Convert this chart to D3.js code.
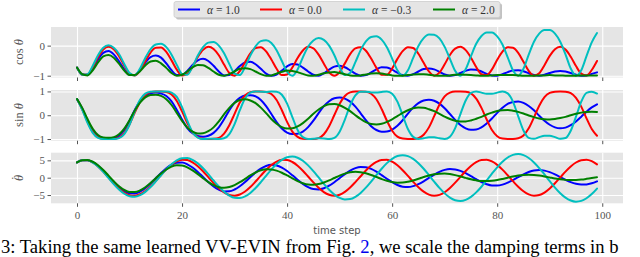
<!DOCTYPE html>
<html><head><meta charset="utf-8">
<script src="https://cdn.jsdelivr.net/npm/d3@7"></script>
<style>html,body{margin:0;padding:0;background:#fff;overflow:hidden}</style>
</head><body><svg id="c" width="640" height="257"></svg>
<script>
// ---------- data ----------
const steps = d3.range(0, 100);            // time step 0..99
const xTicks = [0, 20, 40, 60, 80, 100];
const seriesNames = ["α = 1.0", "α = 0.0", "α = −0.3", "α = 2.0"];
const seriesColors = ["#0000ff", "#ff0000", "#00bfbf", "#008000"];

const cosBlue = [-0.73,-0.96,-0.97,-0.76,-0.46,-0.24,-0.18,-0.29,-0.52,-0.79,-0.97,-0.98,-0.81,-0.57,-0.38,-0.33,-0.40,-0.59,-0.82,-0.98,-0.98,-0.84,-0.64,-0.49,-0.44,-0.51,-0.67,-0.86,-0.99,-0.98,-0.85,-0.68,-0.56,-0.54,-0.62,-0.77,-0.93,-1.00,-0.96,-0.83,-0.69,-0.61,-0.63,-0.73,-0.86,-0.97,-1.00,-0.92,-0.80,-0.70,-0.67,-0.72,-0.82,-0.93,-1.00,-0.98,-0.89,-0.79,-0.72,-0.73,-0.80,-0.90,-0.98,-1.00,-0.95,-0.86,-0.78,-0.76,-0.79,-0.87,-0.96,-1.00,-0.98,-0.91,-0.84,-0.79,-0.80,-0.86,-0.94,-0.99,-1.00,-0.95,-0.88,-0.83,-0.82,-0.85,-0.92,-0.98,-1.00,-0.97,-0.91,-0.86,-0.84,-0.86,-0.91,-0.97,-1.00,-0.99,-0.94,-0.89];
const cosRed = [-0.73,-0.97,-0.96,-0.72,-0.39,-0.13,-0.04,-0.12,-0.35,-0.66,-0.93,-0.99,-0.83,-0.52,-0.23,-0.07,-0.06,-0.21,-0.49,-0.80,-0.99,-0.94,-0.70,-0.38,-0.14,-0.04,-0.11,-0.32,-0.63,-0.91,-1.00,-0.85,-0.55,-0.26,-0.08,-0.05,-0.19,-0.46,-0.77,-0.98,-0.96,-0.73,-0.41,-0.16,-0.04,-0.09,-0.30,-0.60,-0.89,-1.00,-0.88,-0.59,-0.28,-0.09,-0.05,-0.17,-0.43,-0.74,-0.97,-0.97,-0.76,-0.44,-0.18,-0.05,-0.08,-0.27,-0.57,-0.86,-1.00,-0.90,-0.62,-0.31,-0.10,-0.04,-0.15,-0.40,-0.71,-0.95,-0.98,-0.79,-0.47,-0.20,-0.05,-0.07,-0.24,-0.54,-0.84,-1.00,-0.92,-0.65,-0.34,-0.12,-0.04,-0.13,-0.37,-0.68,-0.93,-0.99,-0.81,-0.51];
const cosCyan = [-0.73,-0.97,-0.95,-0.67,-0.32,-0.07,0.01,-0.07,-0.28,-0.61,-0.91,-0.99,-0.76,-0.41,-0.12,0.04,0.06,-0.05,-0.30,-0.64,-0.94,-0.97,-0.70,-0.33,-0.05,0.10,0.12,0.00,-0.25,-0.61,-0.93,-0.98,-0.71,-0.33,-0.02,0.15,0.18,0.09,-0.15,-0.51,-0.87,-1.00,-0.79,-0.39,-0.04,0.17,0.25,0.19,0.00,-0.32,-0.72,-0.98,-0.91,-0.55,-0.15,0.14,0.29,0.31,0.20,-0.05,-0.43,-0.82,-1.00,-0.82,-0.41,-0.01,0.25,0.37,0.36,0.24,-0.04,-0.44,-0.84,-1.00,-0.78,-0.35,0.06,0.32,0.44,0.44,0.31,0.04,-0.39,-0.82,-1.00,-0.77,-0.30,0.13,0.40,0.52,0.52,0.40,0.13,-0.29,-0.76,-1.00,-0.82,-0.35,0.11,0.42];
const cosGreen = [-0.73,-0.95,-0.99,-0.82,-0.56,-0.36,-0.31,-0.40,-0.60,-0.83,-0.98,-0.98,-0.85,-0.66,-0.53,-0.50,-0.59,-0.74,-0.91,-1.00,-0.97,-0.86,-0.72,-0.64,-0.65,-0.74,-0.86,-0.97,-1.00,-0.95,-0.86,-0.77,-0.75,-0.78,-0.86,-0.95,-1.00,-0.99,-0.93,-0.87,-0.83,-0.84,-0.88,-0.94,-0.99,-1.00,-0.97,-0.92,-0.89,-0.88,-0.91,-0.95,-0.99,-1.00,-0.99,-0.96,-0.93,-0.92,-0.93,-0.96,-0.99,-1.00,-1.00,-0.98,-0.96,-0.95,-0.95,-0.97,-0.99,-1.00,-1.00,-0.99,-0.97,-0.96,-0.97,-0.98,-0.99,-1.00,-1.00,-0.99,-0.98,-0.98,-0.98,-0.98,-0.99,-1.00,-1.00,-1.00,-0.99,-0.99,-0.98,-0.99,-0.99,-1.00,-1.00,-1.00,-0.99,-0.99,-0.99,-0.99];

const sinBlue = [0.68,0.27,-0.23,-0.65,-0.89,-0.97,-0.98,-0.96,-0.86,-0.62,-0.23,0.22,0.59,0.82,0.92,0.95,0.91,0.81,0.58,0.22,-0.18,-0.54,-0.76,-0.87,-0.90,-0.86,-0.74,-0.51,-0.17,0.21,0.53,0.73,0.83,0.84,0.79,0.64,0.38,0.05,-0.29,-0.56,-0.73,-0.79,-0.78,-0.69,-0.50,-0.23,0.09,0.38,0.59,0.71,0.74,0.70,0.57,0.36,0.08,-0.21,-0.46,-0.62,-0.69,-0.68,-0.60,-0.44,-0.21,0.07,0.32,0.51,0.62,0.65,0.61,0.49,0.29,0.05,-0.20,-0.41,-0.55,-0.61,-0.60,-0.51,-0.35,-0.14,0.10,0.31,0.48,0.56,0.58,0.52,0.39,0.21,-0.02,-0.23,-0.40,-0.51,-0.55,-0.52,-0.42,-0.26,-0.06,0.15,0.33,0.46];
const sinRed = [0.68,0.25,-0.27,-0.70,-0.92,-0.99,-1.00,-0.99,-0.94,-0.75,-0.38,0.11,0.56,0.85,0.97,1.00,1.00,0.98,0.87,0.60,0.16,-0.33,-0.72,-0.92,-0.99,-1.00,-0.99,-0.95,-0.77,-0.42,0.06,0.53,0.83,0.97,1.00,1.00,0.98,0.89,0.64,0.21,-0.28,-0.69,-0.91,-0.99,-1.00,-1.00,-0.96,-0.80,-0.46,0.01,0.48,0.81,0.96,1.00,1.00,0.99,0.90,0.67,0.26,-0.23,-0.65,-0.90,-0.98,-1.00,-1.00,-0.96,-0.82,-0.51,-0.04,0.44,0.79,0.95,1.00,1.00,0.99,0.92,0.70,0.31,-0.18,-0.62,-0.88,-0.98,-1.00,-1.00,-0.97,-0.85,-0.55,-0.09,0.40,0.76,0.94,0.99,1.00,0.99,0.93,0.73,0.36,-0.13,-0.58,-0.86];
const sinCyan = [0.68,0.23,-0.32,-0.74,-0.95,-1.00,-1.00,-1.00,-0.96,-0.79,-0.40,0.16,0.65,0.91,0.99,1.00,1.00,1.00,0.95,0.77,0.34,-0.23,-0.71,-0.94,-1.00,-0.99,-0.99,-1.00,-0.97,-0.79,-0.37,0.21,0.70,0.95,1.00,0.99,0.98,1.00,0.99,0.86,0.49,-0.08,-0.62,-0.92,-1.00,-0.99,-0.97,-0.98,-1.00,-0.95,-0.69,-0.18,0.41,0.83,0.99,0.99,0.96,0.95,0.98,1.00,0.90,0.57,0.00,-0.58,-0.91,-1.00,-0.97,-0.93,-0.93,-0.97,-1.00,-0.90,-0.54,0.05,0.62,0.94,1.00,0.95,0.90,0.90,0.95,1.00,0.92,0.57,-0.05,-0.64,-0.95,-0.99,-0.92,-0.86,-0.86,-0.92,-0.99,-0.96,-0.65,-0.06,0.57,0.94,0.99,0.91];
const sinGreen = [0.68,0.31,-0.16,-0.57,-0.83,-0.93,-0.95,-0.92,-0.80,-0.56,-0.21,0.20,0.53,0.75,0.85,0.86,0.81,0.67,0.43,0.10,-0.24,-0.52,-0.69,-0.77,-0.76,-0.67,-0.51,-0.26,0.04,0.31,0.52,0.64,0.67,0.62,0.51,0.32,0.09,-0.16,-0.36,-0.50,-0.56,-0.55,-0.47,-0.33,-0.15,0.06,0.24,0.38,0.46,0.47,0.42,0.31,0.17,0.00,-0.16,-0.29,-0.37,-0.39,-0.36,-0.28,-0.17,-0.04,0.10,0.21,0.29,0.32,0.31,0.25,0.17,0.06,-0.06,-0.16,-0.23,-0.26,-0.26,-0.22,-0.15,-0.07,0.03,0.11,0.18,0.21,0.22,0.19,0.14,0.07,-0.01,-0.08,-0.14,-0.17,-0.18,-0.16,-0.12,-0.07,0.00,0.06,0.11,0.14,0.15,0.14];

const dthBlue = [4.4,5.0,5.04,4.48,3.42,1.96,0.30,-1.36,-2.84,-3.93,-4.52,-4.54,-4.02,-3.03,-1.68,-0.15,1.38,2.74,3.76,4.32,4.35,3.86,2.92,1.65,0.20,-1.25,-2.52,-3.46,-3.95,-3.92,-3.41,-2.47,-1.24,0.15,1.48,2.61,3.38,3.70,3.52,2.90,1.92,0.70,-0.59,-1.78,-2.72,-3.28,-3.38,-3.05,-2.32,-1.31,-0.14,1.03,2.03,2.75,3.08,3.00,2.53,1.74,0.75,-0.32,-1.31,-2.11,-2.59,-2.69,-2.43,-1.85,-1.03,-0.08,0.86,1.68,2.25,2.49,2.39,1.97,1.30,0.45,-0.44,-1.26,-1.89,-2.24,-2.27,-1.99,-1.43,-0.68,0.16,0.96,1.63,2.07,2.20,2.03,1.59,0.94,0.18,-0.60,-1.28,-1.76,-1.99,-1.93,-1.60,-1.05];
const dthRed = [4.4,5.03,5.01,4.40,3.26,1.74,0.00,-1.68,-3.18,-4.34,-5.03,-5.19,-4.78,-3.87,-2.54,-0.94,0.77,2.39,3.75,4.71,5.17,5.07,4.43,3.31,1.84,0.17,-1.52,-3.04,-4.24,-4.99,-5.20,-4.85,-3.98,-2.69,-1.10,0.60,2.23,3.63,4.64,5.15,5.11,4.52,3.45,2.00,0.34,-1.35,-2.90,-4.14,-4.93,-5.20,-4.91,-4.09,-2.83,-1.27,0.42,2.07,3.50,4.56,5.12,5.14,4.60,3.57,2.16,0.52,-1.18,-2.75,-4.03,-4.88,-5.20,-4.96,-4.20,-2.98,-1.44,0.25,1.91,3.37,4.47,5.09,5.16,4.68,3.70,2.32,0.69,-1.01,-2.61,-3.92,-4.81,-5.19,-5.01,-4.29,-3.12,-1.61,0.07,1.75,3.24,4.38,5.05,5.18,4.75,3.82];
const dthCyan = [4.4,5.05,4.99,4.36,3.21,1.67,-0.07,-1.84,-3.41,-4.63,-5.34,-5.48,-5.05,-4.10,-2.73,-1.06,0.70,2.42,3.90,5.00,5.60,5.65,5.14,4.13,2.70,1.01,-0.80,-2.53,-4.04,-5.15,-5.78,-5.86,-5.38,-4.39,-2.98,-1.28,0.55,2.34,3.92,5.14,5.89,6.09,5.75,4.87,3.55,1.89,0.06,-1.79,-3.49,-4.87,-5.83,-6.28,-6.17,-5.52,-4.39,-2.88,-1.11,0.77,2.58,4.19,5.44,6.23,6.50,6.22,5.43,4.18,2.57,0.75,-1.14,-2.95,-4.52,-5.73,-6.48,-6.70,-6.38,-5.54,-4.24,-2.61,-0.76,1.16,2.99,4.57,5.81,6.56,6.80,6.49,5.67,4.40,2.78,0.93,-0.99,-2.84,-4.47,-5.75,-6.58,-6.90,-6.68,-5.93,-4.72,-3.13];
const dthGreen = [4.4,5.0,5.07,4.59,3.60,2.21,0.60,-1.02,-2.47,-3.54,-4.13,-4.14,-3.66,-2.75,-1.53,-0.15,1.21,2.37,3.19,3.58,3.49,2.98,2.12,1.03,-0.15,-1.26,-2.17,-2.73,-2.90,-2.67,-2.12,-1.30,-0.34,0.64,1.50,2.12,2.43,2.38,2.03,1.43,0.65,-0.19,-0.97,-1.59,-1.97,-2.04,-1.84,-1.40,-0.79,-0.09,0.60,1.18,1.56,1.70,1.59,1.27,0.79,0.21,-0.38,-0.90,-1.27,-1.44,-1.40,-1.17,-0.80,-0.32,0.18,0.64,0.99,1.17,1.18,1.03,0.74,0.36,-0.06,-0.46,-0.77,-0.96,-0.99,-0.89,-0.67,-0.36,-0.01,0.33,0.61,0.79,0.85,0.78,0.61,0.36,0.07,-0.22,-0.47,-0.63,-0.70,-0.66,-0.53,-0.33,-0.10,0.15];

const cosTicks = [-1, 0];
const sinTicks = [-1, 0, 1];
const dthTicks = [-5, 0, 5];

// ---------- drawing ----------
const svg = d3.select("#c");
const serif = "'Liberation Serif','Times New Roman',serif";
const tickColor = "#555555";
const x = d3.scaleLinear().domain([-4.95, 103.95]).range([51, 623]);

const panels = [
  {top: 27,    bottom: 77.5,  domain: [-1.06, 0.62], ticks: cosTicks, series: [cosBlue, cosRed, cosCyan, cosGreen], label: "cos", labelY: 52},
  {top: 90,    bottom: 140.7, domain: [-1.07, 1.06], ticks: sinTicks, series: [sinBlue, sinRed, sinCyan, sinGreen], label: "sin", labelY: 115},
  {top: 152.7, bottom: 203.3, domain: [-7.38, 7.2],  ticks: dthTicks, series: [dthBlue, dthRed, dthCyan, dthGreen], label: "dot", labelY: 178}
];

panels.forEach((p, pi) => {
  const y = d3.scaleLinear().domain(p.domain).range([p.bottom, p.top]);
  const g = svg.append("g");
  g.append("rect").attr("x", x.range()[0]).attr("y", p.top)
    .attr("width", x.range()[1] - x.range()[0]).attr("height", p.bottom - p.top)
    .attr("fill", "#e5e5e5");
  // grid
  const gy = g.append("g").attr("transform", `translate(${x.range()[0]},0)`)
    .call(d3.axisLeft(y).tickValues(p.ticks).tickSize(-(x.range()[1] - x.range()[0])).tickFormat(""));
  const gx = g.append("g").attr("transform", `translate(0,${p.top})`)
    .call(d3.axisBottom(x).tickValues(xTicks).tickSize(p.bottom - p.top).tickFormat(""));
  [gy, gx].forEach(a => {
    a.select(".domain").remove();
    a.selectAll("line").attr("stroke", "#ffffff").attr("stroke-width", 1.1);
  });
  // lines
  const clipId = "clip" + pi;
  svg.append("clipPath").attr("id", clipId).append("rect")
    .attr("x", x.range()[0]).attr("y", p.top)
    .attr("width", x.range()[1] - x.range()[0]).attr("height", p.bottom - p.top);
  const lineGen = d3.line().x((d, i) => x(steps[i])).y(d => y(d)).curve(d3.curveMonotoneX);
  const lg = g.append("g").attr("clip-path", `url(#${clipId})`);
  p.series.forEach((s, si) => {
    lg.append("path").attr("d", lineGen(s)).attr("fill", "none")
      .attr("stroke", seriesColors[si]).attr("stroke-width", 2)
      .attr("stroke-linejoin", "round").attr("stroke-linecap", "round");
  });
  // y axis ticks
  const ay = g.append("g").attr("transform", `translate(${x.range()[0]},0)`)
    .call(d3.axisLeft(y).tickValues(p.ticks).tickSize(3.5).tickPadding(2.5).tickFormat(d3.format("d")));
  ay.select(".domain").remove();
  ay.selectAll("line").attr("stroke", tickColor);
  ay.selectAll("text").attr("fill", tickColor).style("font-family", serif).style("font-size", "11px");
  // x ticks
  const ax = g.append("g").attr("transform", `translate(0,${p.bottom})`)
    .call(d3.axisBottom(x).tickValues(xTicks).tickSize(3.5).tickPadding(4)
      .tickFormat(pi === 2 ? d3.format("d") : ""));
  ax.select(".domain").remove();
  ax.selectAll("line").attr("stroke", tickColor);
  ax.selectAll("text").attr("fill", tickColor).style("font-family", serif).style("font-size", "11px");
  // y label
  const t = svg.append("text").attr("transform", `translate(23,${p.labelY}) rotate(-90)`)
    .attr("text-anchor", "middle").attr("fill", tickColor)
    .style("font-family", serif).style("font-size", "12.5px");
  if (p.label === "dot") {
    t.append("tspan").style("font-style", "italic").text("θ");
    t.append("tspan").attr("dx", "-0.42em").attr("dy", "-0.22em").text("˙");
  } else {
    t.append("tspan").text(p.label + " ");
    t.append("tspan").style("font-style", "italic").text("θ");
  }
});

// x axis label
svg.append("text").attr("x", 337).attr("y", 233.5).attr("text-anchor", "middle")
  .attr("fill", tickColor).style("font-family", "'DejaVu Sans',sans-serif").style("font-size", "10px")
  .text("time step");

// legend
const lgd = svg.append("g");
lgd.append("rect").attr("x", 176).attr("y", 3.5).attr("width", 326).attr("height", 16).attr("rx", 2)
  .attr("fill", "#9a9a9a").attr("opacity", 0.6);
lgd.append("rect").attr("x", 174).attr("y", 1.5).attr("width", 326).attr("height", 16).attr("rx", 2)
  .attr("fill", "#e5e5e5").attr("stroke", "#cccccc").attr("stroke-width", 0.8);
const legendX = [178, 260, 343, 433];
seriesNames.forEach((name, i) => {
  const lx = legendX[i];
  lgd.append("line").attr("x1", lx).attr("x2", lx + 22).attr("y1", 9.5).attr("y2", 9.5)
    .attr("stroke", seriesColors[i]).attr("stroke-width", 2);
  const tx = lgd.append("text").attr("x", lx + 29).attr("y", 13.5).attr("fill", "#333")
    .style("font-family", serif).style("font-size", "11.5px");
  tx.append("tspan").style("font-style", "italic").text("α");
  tx.append("tspan").text(name.slice(1));
});

// caption line visible at the bottom of the reference
const cap = svg.append("text").attr("x", 1).attr("y", 252.6).attr("fill", "#000")
  .style("font-family", serif).style("font-size", "18.6px");
cap.append("tspan").text("3: Taking the same learned VV-EVIN from Fig. ");
cap.append("tspan").attr("fill", "#0000ee").text("2");
cap.append("tspan").text(", we scale the damping terms in b");
</script>
</body></html>
